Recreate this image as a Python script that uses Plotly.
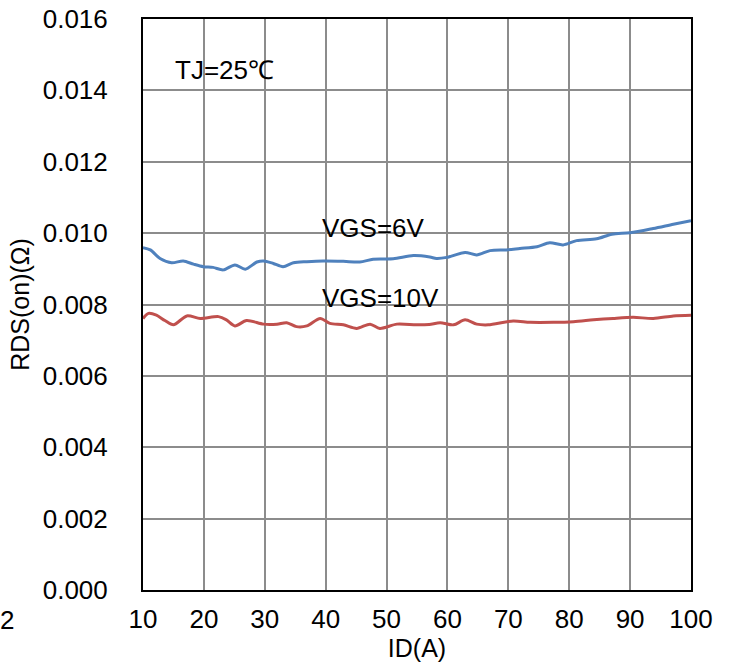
import plotly.graph_objects as go

# Drain current ID (A) and on-resistance RDS(on) (ohm) at TJ = 25 C
id_vgs6 = [10, 11.2, 12.8, 14.7, 16.6, 18.3, 19.9, 21.5, 23.2, 25.1, 26.8, 28.7,
           29.8, 31.4, 33.0, 34.7, 36.9, 39.6, 42.9, 45.6, 47.8, 51.1, 54.4, 57.1,
           58.2, 59.9, 62.9, 64.8, 67.0, 69.7, 71.9, 74.7, 76.8, 79.0, 81.2, 84.5,
           87.0, 90.0, 93.8, 97.1, 100]
rds_vgs6 = [0.00959, 0.00953, 0.00929, 0.00917, 0.00922, 0.00913, 0.00906, 0.00904,
            0.00897, 0.00911, 0.00899, 0.00919, 0.00922, 0.00915, 0.00906, 0.00917,
            0.00920, 0.00922, 0.00921, 0.00919, 0.00927, 0.00928, 0.00937, 0.00933,
            0.00929, 0.00932, 0.00946, 0.00939, 0.00951, 0.00953, 0.00957, 0.00962,
            0.00973, 0.00967, 0.00979, 0.00984, 0.00997, 0.01001, 0.01013, 0.01025,
            0.01035]

id_vgs10 = [10, 10.9, 12.2, 13.6, 15.0, 17.2, 19.4, 22.4, 23.7, 25.1, 27.0, 29.8,
            32.0, 33.6, 35.2, 36.9, 39.1, 40.7, 42.9, 45.1, 47.3, 48.9, 51.7, 54.9,
            57.0, 58.8, 61.0, 62.9, 64.8, 66.7, 70.8, 73.6, 77.4, 80.7, 84.0, 87.2,
            90.5, 93.8, 97.1, 100]
rds_vgs10 = [0.00761, 0.00775, 0.00770, 0.00755, 0.00743, 0.00768, 0.00761, 0.00766,
             0.00757, 0.00740, 0.00755, 0.00745, 0.00745, 0.00749, 0.00738, 0.00740,
             0.00761, 0.00747, 0.00743, 0.00733, 0.00745, 0.00733, 0.00745, 0.00743,
             0.00744, 0.00749, 0.00743, 0.00757, 0.00745, 0.00743, 0.00754, 0.00750,
             0.00750, 0.00752, 0.00757, 0.00761, 0.00764, 0.00761, 0.00768, 0.00770]

FONT = "Liberation Sans, Arial, sans-serif"

fig = go.Figure()
fig.add_trace(go.Scatter(x=id_vgs6, y=rds_vgs6, mode="lines", name="VGS=6V",
                         line=dict(color="#4F81BD", width=3, shape="spline", smoothing=0.8)))
fig.add_trace(go.Scatter(x=id_vgs10, y=rds_vgs10, mode="lines", name="VGS=10V",
                         line=dict(color="#C0504D", width=3, shape="spline", smoothing=0.8)))

fig.add_annotation(x=14.9, y=0.01457, text="TJ=25℃", showarrow=False,
                   xanchor="left", yanchor="middle", font=dict(size=26, color="black"))
fig.add_annotation(x=39.1, y=0.01014, text="VGS=6V", showarrow=False,
                   xanchor="left", yanchor="middle", font=dict(size=26, color="black"))
fig.add_annotation(x=39.1, y=0.00818, text="VGS=10V", showarrow=False,
                   xanchor="left", yanchor="middle", font=dict(size=26, color="black"))
fig.add_annotation(x=-0.248, y=-0.0525, xref="paper", yref="paper", text="2",
                   showarrow=False, xanchor="center", yanchor="middle",
                   font=dict(size=26, color="black"))

fig.update_layout(
    width=731, height=663,
    margin=dict(l=143, r=40, t=19, b=73),
    paper_bgcolor="white", plot_bgcolor="white",
    showlegend=False,
    font=dict(family=FONT, size=26, color="black"),
)
fig.update_xaxes(
    range=[10, 100], dtick=10, tick0=10, automargin=False,
    showgrid=True, gridcolor="#8c8c8c", gridwidth=1.5,
    showline=True, linecolor="black", linewidth=2, mirror=True,
    ticks="", ticklabelstandoff=5, zeroline=False,
    title=dict(text="ID(A)", font=dict(size=25), standoff=0),
)
fig.update_yaxes(
    range=[0, 0.016], dtick=0.002, tick0=0, tickformat=".3f", automargin=False,
    showgrid=True, gridcolor="#8c8c8c", gridwidth=1.5,
    showline=True, linecolor="black", linewidth=2, mirror=True,
    ticks="", ticklabelstandoff=28, zeroline=False,
    title=dict(text="RDS(on)(Ω)", font=dict(size=25), standoff=6),
)

fig.write_html("out.html")
